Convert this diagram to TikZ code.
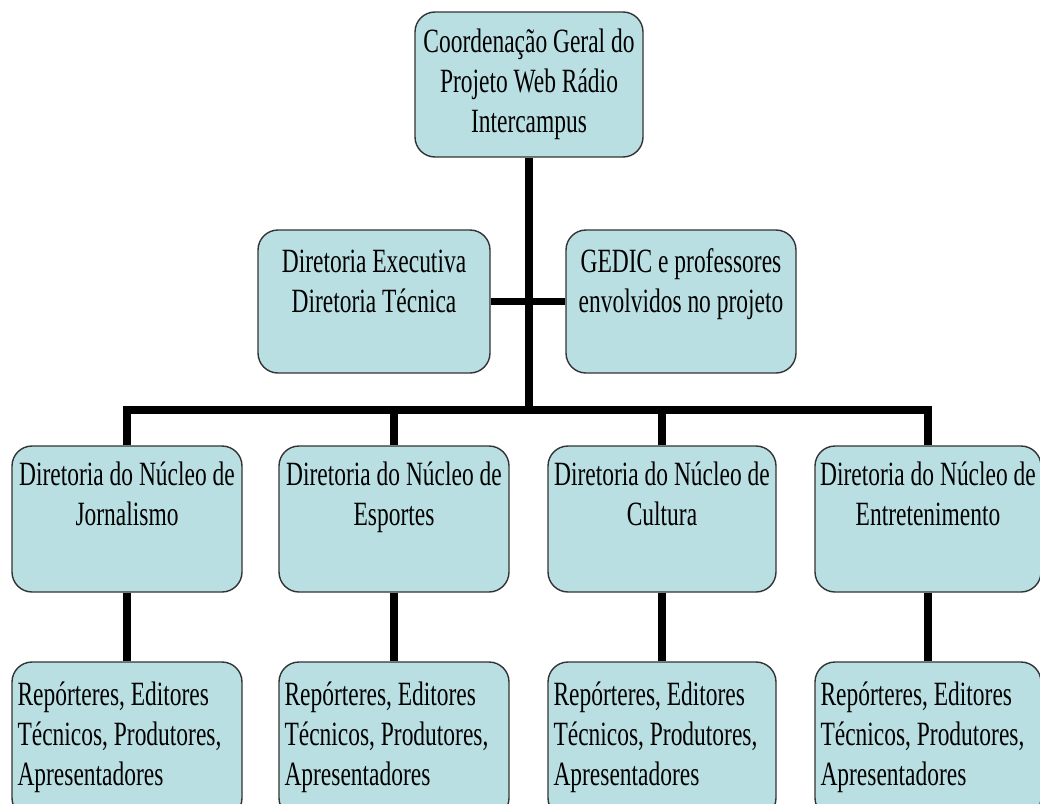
\documentclass[tikz,border=0pt]{standalone}
\usepackage{fontspec}
\setmainfont{Liberation Serif}[FakeStretch=0.69]
\definecolor{boxfill}{HTML}{B9DFE2}
\definecolor{boxborder}{HTML}{333333}
\newcommand{\firstline}{\rule{0pt}{30pt}}
\begin{document}
\begin{tikzpicture}[x=1pt,y=-1pt,
  box/.style={draw=boxborder, line width=1.4pt, fill=boxfill, rounded corners=20pt, inner sep=0pt},
  conn/.style={line width=7.5pt, black},
  txt/.style={font=\fontsize{34}{40}\selectfont, inner sep=0pt, text=black}]
\path[use as bounding box] (0,0) rectangle (1040,803);
\clip (0,0) rectangle (1040,803);
\coordinate (bus) at (529,410);
% top box
\node[box, txt, minimum width=228pt, minimum height=145pt, align=center] (top) at (529,84.5)
  {Coordenação Geral do\\Projeto Web Rádio\\Intercampus};
% middle boxes
\node[box, minimum width=232pt, minimum height=143pt] (m1) at (374,301.5) {};
\node[box, minimum width=230pt, minimum height=143pt] (m2) at (681,301.5) {};
% row 2
\node[box, minimum width=230pt, minimum height=146pt] (a1) at (127,519) {};
\node[box, minimum width=230pt, minimum height=146pt] (b1) at (394,519) {};
\node[box, minimum width=228pt, minimum height=146pt] (c1) at (662,519) {};
\node[box, minimum width=226pt, minimum height=146pt] (d1) at (928,519) {};
% row 3
\node[box, minimum width=230pt, minimum height=156pt] (a2) at (127,740) {};
\node[box, minimum width=230pt, minimum height=156pt] (b2) at (394,740) {};
\node[box, minimum width=228pt, minimum height=156pt] (c2) at (662,740) {};
\node[box, minimum width=226pt, minimum height=156pt] (d2) at (928,740) {};
% connectors
\draw[conn] (top.south) -- (bus);
\draw[conn] (m1.east) -- (m2.west);
\draw[conn] (a1.north) |- (bus) -| (d1.north);
\draw[conn] (b1.north) -- (b1.north |- bus);
\draw[conn] (c1.north) -- (c1.north |- bus);
\draw[conn] (a1.south) -- (a2.north);
\draw[conn] (b1.south) -- (b2.north);
\draw[conn] (c1.south) -- (c2.north);
\draw[conn] (d1.south) -- (d2.north);
% texts
\node[txt, align=center, anchor=north, yshift=-13pt] (m1t) at (m1.north) {\firstline Diretoria Executiva\\Diretoria Técnica};
\node[txt, align=center, anchor=north, yshift=-13pt] (m2t) at (m2.north) {\firstline GEDIC e professores\\envolvidos no projeto};
\node[txt, align=center, anchor=north, yshift=-10pt] (a1t) at (a1.north) {\firstline Diretoria do Núcleo de\\Jornalismo};
\node[txt, align=center, anchor=north, yshift=-10pt] (b1t) at (b1.north) {\firstline Diretoria do Núcleo de\\Esportes};
\node[txt, align=center, anchor=north, yshift=-10pt] (c1t) at (c1.north) {\firstline Diretoria do Núcleo de\\Cultura};
\node[txt, align=center, anchor=north, yshift=-10pt] (d1t) at (d1.north) {\firstline Diretoria do Núcleo de\\Entretenimento};
\foreach \n in {a2,b2,c2,d2}{
  \node[txt, align=left, anchor=north west, xshift=6pt, yshift=-14pt] (\n t) at (\n.north west)
    {\firstline Repórteres, Editores\\Técnicos, Produtores,\\Apresentadores};
}
\end{tikzpicture}
\end{document}
